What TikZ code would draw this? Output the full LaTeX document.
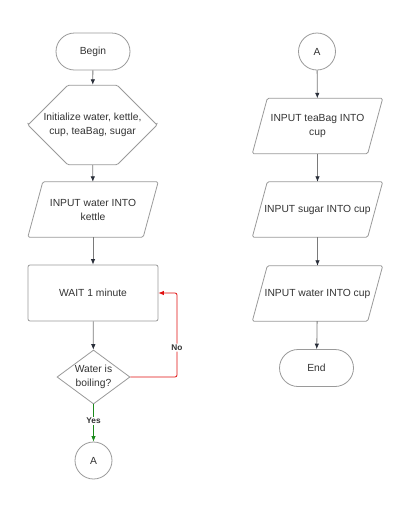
\documentclass[tikz,border=0pt]{standalone}
\usepackage{fontspec}
\setmainfont{Liberation Sans}
\usetikzlibrary{shapes.geometric,shapes.misc,arrows.meta}
\definecolor{outl}{HTML}{9A9A9A}
\definecolor{txt}{HTML}{333333}
\definecolor{lin}{HTML}{7A7A7A}
\definecolor{tip}{HTML}{2A2F3A}
\definecolor{redl}{HTML}{E01010}
\definecolor{grnl}{HTML}{1A8A1A}
\tikzset{
  base/.style={draw=outl, line width=0.8pt, text=txt, font=\fontsize{10.3}{14}\selectfont, align=center, inner sep=0pt},
  term/.style={base, rounded rectangle, minimum width=74pt, minimum height=37pt},
  conn/.style={base, circle, minimum size=37pt},
  prep/.style={base, chamfered rectangle, chamfered rectangle xsep=25pt, chamfered rectangle ysep=28pt, minimum width=129pt, minimum height=56pt, rounded corners=1.5pt},
  box/.style={base, rectangle, rounded corners=2pt, minimum width=130pt, minimum height=56pt},
  iobox/.style={rectangle, draw=none, text=txt, font=\fontsize{10.3}{14}\selectfont, align=center, inner sep=0pt, minimum width=130pt, minimum height=55pt},
  para/.style={draw=outl, line width=0.8pt, rounded corners=1.5pt},
  dec/.style={base, diamond, minimum width=73pt, minimum height=54pt, aspect=1.35},
  flow/.style={draw=lin, line width=0.8pt, -{Latex[length=5.5pt,width=4.5pt,fill=tip,color=tip]}},
  lbl/.style={fill=white, text=txt, font=\fontsize{8.3}{10}\selectfont\bfseries, inner sep=1pt},
}
\begin{document}
\begin{tikzpicture}[x=1pt,y=-1pt]
\useasboundingbox[fill=white] (0,0) rectangle (410,512);
% left column
\node[term] (begin) at (93,51.5) {Begin};
\node[prep] (init) at (92.5,125) {Initialize water, kettle,\\cup, teaBag, sugar};
\node[iobox] (inw) at (93,209.5) {INPUT water INTO\\kettle};
\draw[para] ([xshift=15pt]inw.north west) -- (inw.north east) -- ([xshift=-15pt]inw.south east) -- (inw.south west) -- cycle;
\node[box] (wait) at (93,293) {WAIT 1 minute};
\node[dec] (boil) at (93.5,377) {Water is\\boiling?};
\node[conn] (a1) at (93.5,460.5) {A};
% right column
\node[conn] (a2) at (317,51.5) {A};
\node[iobox] (tea) at (317.5,126) {INPUT teaBag INTO\\cup};
\draw[para] ([xshift=15pt]tea.north west) -- (tea.north east) -- ([xshift=-15pt]tea.south east) -- (tea.south west) -- cycle;
\node[iobox] (sug) at (317.5,209.5) {INPUT sugar INTO cup};
\draw[para] ([xshift=15pt]sug.north west) -- (sug.north east) -- ([xshift=-15pt]sug.south east) -- (sug.south west) -- cycle;
\node[iobox] (wat) at (317.5,293.5) {INPUT water INTO cup};
\draw[para] ([xshift=15pt]wat.north west) -- (wat.north east) -- ([xshift=-15pt]wat.south east) -- (wat.south west) -- cycle;
\node[term] (end) at (316.5,368) {End};
% connectors
\draw[flow] (begin) -- (init);
\draw[flow] (init) -- (inw);
\draw[flow] (inw) -- (wait);
\draw[flow] (wait) -- (boil);
\draw[draw=grnl, line width=0.8pt, -{Latex[length=5.5pt,width=4.5pt]}] (boil) -- node[lbl, pos=0.45] {Yes} (a1);
\draw[draw=redl, line width=0.8pt, rounded corners=2pt, -{Latex[length=5.5pt,width=4.5pt]}] (boil.east) -- (177,377) -- node[lbl, pos=0.35] {No} (177,293) -- (wait.east);
\draw[flow] (a2) -- (tea);
\draw[flow] (tea) -- (sug);
\draw[flow] (sug) -- (wat);
\draw[flow] (wat) -- (end);
\end{tikzpicture}
\end{document}
